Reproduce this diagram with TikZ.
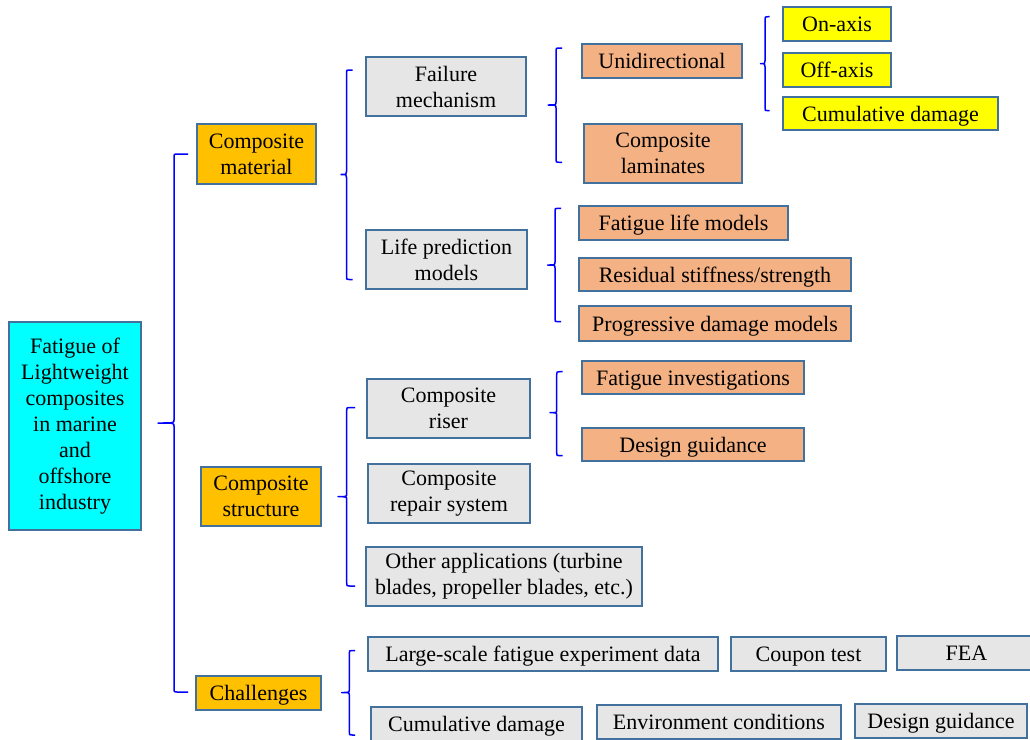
\documentclass[tikz,border=0pt]{standalone}
\usepackage{fontspec}
\setmainfont{Liberation Serif}
\definecolor{bordc}{HTML}{41719C}
\definecolor{rootc}{HTML}{00FFFF}
\definecolor{goldc}{HTML}{FFC000}
\definecolor{grayc}{HTML}{E7E6E6}
\definecolor{salmc}{HTML}{F4B183}
\definecolor{yelc}{HTML}{FFFF00}
\definecolor{brcc}{HTML}{0000FF}
\newcommand\bx[7]{\node[box,#2,minimum width={#5-#3},minimum height={#6-#4}] (#1) at ({(#3+#5)/2},{(#4+#6)/2}) {#7};}
\newcommand\brc[6]{\draw[brcline] (#5,#2) -- ({#1+3},#2) .. controls (#1,#2) .. (#1,{#2+3}) -- (#1,{#3-3}) .. controls (#1,#3) .. (#6,#3) .. controls (#1,#3) .. (#1,{#3+3}) -- (#1,{#4-3}) .. controls (#1,#4) .. ({#1+3},#4) -- (#5,#4);}
\begin{document}
\begin{tikzpicture}[x=1pt,y=-1pt,
  box/.style={draw=bordc,line width=1.3pt,inner sep=0pt,align=center,font=\fontsize{22}{26}\selectfont},
  one/.style={execute at begin node={\rule{0pt}{20.5pt}},
    execute at end node={\rule[-5pt]{0pt}{5pt}}},
  root/.style={fill=rootc},
  lvl1/.style={fill=goldc},
  gry/.style={fill=grayc},
  slm/.style={fill=salmc},
  yel/.style={fill=yelc},
  brcline/.style={draw=brcc,line width=1.5pt,line join=round}]
\useasboundingbox (0,0) rectangle (1030,739);
% nodes
\bx{root}{root}{9}{322}{141}{530}{Fatigue of\\Lightweight\\composites\\in marine\\and\\offshore\\industry}
\bx{cm}{lvl1}{197}{124}{316}{184}{Composite\\material}
\bx{cs}{lvl1}{201}{467}{321}{526}{Composite\\structure}
\bx{ch}{lvl1,one}{196}{676}{321}{710}{Challenges}
\bx{fm}{gry}{366}{57}{526}{116}{Failure\\mechanism}
\bx{lp}{gry}{366}{230}{527}{289}{Life prediction\\models}
\bx{uni}{slm,one}{582}{44}{742}{78}{Unidirectional}
\bx{cl}{slm}{584}{124}{742}{183}{Composite\\laminates}
\bx{on}{yel,one}{783}{7}{891}{41}{On-axis}
\bx{off}{yel,one}{783}{53}{891}{87}{Off-axis}
\bx{cum}{yel,one}{783}{97}{998}{130}{Cumulative damage}
\bx{flm}{slm,one}{579}{206}{788}{240}{Fatigue life models}
\bx{res}{slm,one}{579}{258}{851}{291}{Residual stiffness/strength}
\bx{prog}{slm,one}{579}{306}{851}{341}{Progressive damage models}
\bx{riser}{gry}{367}{379}{530}{438}{Composite\\riser}
\bx{fi}{slm,one}{582}{361}{804}{394}{Fatigue investigations}
\bx{dg}{slm,one}{582}{428}{804}{461}{Design guidance}
\bx{rep}{gry}{368}{464}{530}{523}{Composite\\repair system}
\bx{oth}{gry}{366}{547}{642}{606}{Other applications (turbine\\blades, propeller blades, etc.)}
\bx{ls}{gry,one}{368}{637}{718}{671}{Large-scale fatigue experiment data}
\bx{ct}{gry,one}{731}{637}{886}{671}{Coupon test}
\bx{fea}{gry,one}{897}{636}{1036}{670}{FEA}
\bx{cdb}{gry,one}{371}{707}{582}{741}{Cumulative damage}
\bx{env}{gry,one}{597}{705}{841}{739}{Environment conditions}
\bx{dgb}{gry,one}{855}{704}{1027}{738}{Design guidance}
% braces
\brc{174}{154}{423}{692}{188}{158}
\brc{346.5}{70}{174.5}{279.5}{352.5}{341}
\brc{556}{48}{105}{162.3}{562}{548}
\brc{765}{16.7}{63.7}{110.7}{769.5}{760.5}
\brc{555}{208.3}{265}{321.7}{561}{547.5}
\brc{346.7}{407.5}{496.7}{586}{355}{338}
\brc{556.7}{371.7}{412.7}{455.7}{562.7}{550}
\brc{349.3}{650.5}{692.5}{735}{355}{341.7}
\end{tikzpicture}
\end{document}
